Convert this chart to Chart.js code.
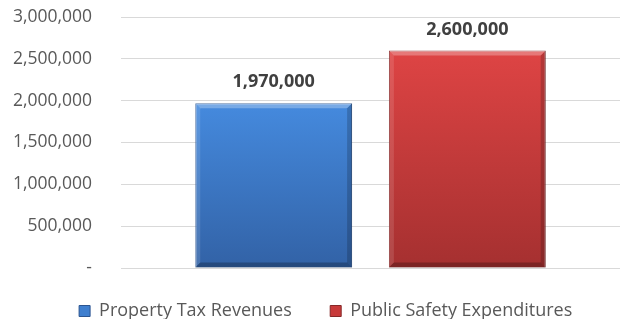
<!DOCTYPE html>
<html>
<head>
<meta charset="utf-8">
<script src="https://cdn.jsdelivr.net/npm/chart.js@4.4.0/dist/chart.umd.min.js"></script>
<style>
  html, body { margin: 0; padding: 0; background: #fff; }
  #wrap { width: 621px; height: 319px; }
</style>
</head>
<body>
<div id="wrap"><canvas id="budgetChart"></canvas></div>
<script>
var categories = [""];
var seriesNames = ["Property Tax Revenues", "Public Safety Expenditures"];
var propertyTax = [1970000];
var publicSafety = [2600000];
var yTicks = [0, 500000, 1000000, 1500000, 2000000, 2500000, 3000000];

var fontFam = "'Open Sans', sans-serif";

function barGradient(top, bottom){
	return function(ctx){
		var chart = ctx.chart;
		if(!chart.chartArea || ctx.parsed === undefined) return top;
		var y = chart.scales.y;
		var y0 = y.getPixelForValue(ctx.parsed.y);
		var y1 = y.getPixelForValue(0);
		var g = chart.ctx.createLinearGradient(0, y0, 0, y1);
		g.addColorStop(0, top);
		g.addColorStop(1, bottom);
		return g;
	};
}

// bevel edges + value labels on top of bars
var barDecor = {
	id: 'barDecor',
	afterDatasetsDraw: function(chart){
		var c = chart.ctx;
		chart.data.datasets.forEach(function(ds, i){
			var meta = chart.getDatasetMeta(i);
			meta.data.forEach(function(bar, j){
				var p = bar.getProps(['x','y','base','width'], true);
				var l = p.x - p.width/2, r = p.x + p.width/2, t = p.y, b = p.base, e = 5;
				c.save();
				c.fillStyle = 'rgba(255,255,255,0.28)';
				c.beginPath(); c.moveTo(l,t); c.lineTo(r,t); c.lineTo(r-e,t+e); c.lineTo(l+e,t+e); c.closePath(); c.fill();
				c.fillStyle = 'rgba(255,255,255,0.12)';
				c.beginPath(); c.moveTo(l,t); c.lineTo(l+e,t+e); c.lineTo(l+e,b-e); c.lineTo(l,b); c.closePath(); c.fill();
				c.fillStyle = 'rgba(0,0,0,0.18)';
				c.beginPath(); c.moveTo(r,t); c.lineTo(r-e,t+e); c.lineTo(r-e,b-e); c.lineTo(r,b); c.closePath(); c.fill();
				c.fillStyle = 'rgba(0,0,0,0.25)';
				c.beginPath(); c.moveTo(l,b); c.lineTo(l+e,b-e); c.lineTo(r-e,b-e); c.lineTo(r,b); c.closePath(); c.fill();
				c.fillStyle = '#404040';
				c.font = "bold 18px " + fontFam;
				c.textAlign = 'center';
				c.textBaseline = 'middle';
				c.fillText(ds.data[j].toLocaleString('en-US'), p.x, t - 21);
				c.restore();
			});
		});
	}
};

var legendColors = ['#3f7fcf', '#c83a3a'];

new Chart(document.getElementById('budgetChart'), {
	type: 'bar',
	data: {
		labels: categories,
		datasets: [
			{
				label: seriesNames[0],
				data: propertyTax,
				backgroundColor: barGradient('#458ade', '#3262a6'),
				borderColor: '#2c5590',
				borderWidth: 1
			},
			{
				label: seriesNames[1],
				data: publicSafety,
				backgroundColor: barGradient('#de4444', '#a53030'),
				borderColor: '#862828',
				borderWidth: 1
			}
		]
	},
	options: {
		responsive: true,
		maintainAspectRatio: false,
		animation: false,
		categoryPercentage: 0.776,
		barPercentage: 0.81,
		layout: { padding: { top: 17, right: 1, left: 0, bottom: 0 } },
		plugins: {
			tooltip: { enabled: false },
			legend: {
				position: 'bottom',
				align: 'end',
				maxHeight: 18,
				labels: {
					boxWidth: 11,
					boxHeight: 11,
					padding: 1,
					color: '#595959',
					font: { family: fontFam, size: 18 },
					generateLabels: function(chart){
						// trailing spaces: gap between items / right margin of the row
						var tails = ['        ', '          '];
						return chart.data.datasets.map(function(ds, i){
							return {
								text: ds.label + tails[i],
								fillStyle: legendColors[i],
								strokeStyle: ds.borderColor,
								lineWidth: 1,
								fontColor: '#595959',
								datasetIndex: i
							};
						});
					}
				}
			}
		},
		scales: {
			x: {
				grid: { display: false },
				border: { display: false },
				ticks: { display: false },
				afterFit: function(scale){ scale.height = 33; }
			},
			y: {
				min: 0,
				max: 3000000,
				afterBuildTicks: function(scale){
					scale.ticks = yTicks.map(function(v){ return { value: v }; });
				},
				afterFit: function(scale){
					scale.width = 121;
					scale.paddingTop = 0;
					scale.paddingBottom = 0;
				},
				grid: { color: '#d9d9d9', drawTicks: false },
				border: { display: false },
				ticks: {
					padding: 29,
					color: '#595959',
					font: { family: fontFam, size: 17.5 },
					callback: function(v){ return v === 0 ? '-' : v.toLocaleString('en-US'); }
				}
			}
		}
	},
	plugins: [barDecor]
});
</script>
</body>
</html>
